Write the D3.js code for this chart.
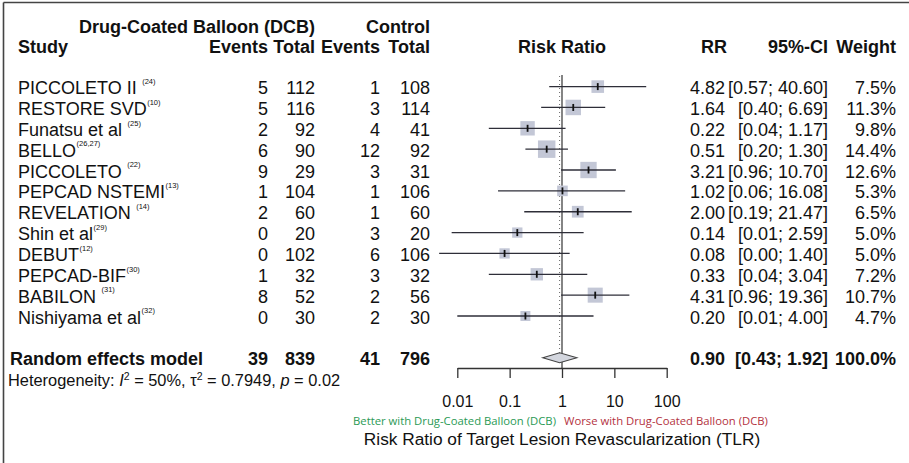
<!DOCTYPE html>
<html>
<head>
<meta charset="utf-8">
<script src="https://cdn.jsdelivr.net/npm/d3@7"></script>
<style>
  html, body { margin: 0; padding: 0; background: #fff; }
  svg text { white-space: pre; }
</style>
</head>
<body>
<svg id="chart" width="909" height="463"></svg>
<script>
// ---------- data ----------
const studies = ["PICCOLETO II ", "RESTORE SVD", "Funatsu et al ", "BELLO", "PICCOLETO ", "PEPCAD NSTEMI",
                 "REVELATION ", "Shin et al", "DEBUT", "PEPCAD-BIF", "BABILON ", "Nishiyama et al"];
const refs = ["(24)", "(10)", "(25)", "(26,27)", "(22)", "(13)", "(14)", "(29)", "(12)", "(30)", "(31)", "(32)"];
const dcbEvents = [5, 5, 2, 6, 9, 1, 2, 0, 0, 1, 8, 0];
const dcbTotal = [112, 116, 92, 90, 29, 104, 60, 20, 102, 32, 52, 30];
const ctrlEvents = [1, 3, 4, 12, 3, 1, 1, 3, 6, 3, 2, 2];
const ctrlTotal = [108, 114, 41, 92, 31, 106, 60, 20, 106, 32, 56, 30];
const rr = [4.82, 1.64, 0.22, 0.51, 3.21, 1.02, 2.00, 0.14, 0.08, 0.33, 4.31, 0.20];
const ciLow = [0.57, 0.40, 0.04, 0.20, 0.96, 0.06, 0.19, 0.0078, 0.0045, 0.04, 0.96, 0.01];
const ciHigh = [40.60, 6.69, 1.17, 1.30, 10.70, 16.08, 21.47, 2.59, 1.40, 3.04, 19.36, 4.00];
const weight = [7.5, 11.3, 9.8, 14.4, 12.6, 5.3, 6.5, 5.0, 5.0, 7.2, 10.7, 4.7];
const pooledLabel = ["Random effects model"];
const pooledCounts = [39, 839, 41, 796];
const pooledRR = [0.90];
const pooledCI = [0.43, 1.92];
const pooledWeight = [100.0];
const tickValues = [0.01, 0.1, 1, 10, 100];
const tickLabels = ["0.01", "0.1", "1", "10", "100"];

// ---------- layout ----------
const svg = d3.select("#chart");
const FONT = "'Liberation Sans', Arial, sans-serif";
const fmt2 = d3.format(".2f"), fmt1 = d3.format(".1f");

const x = d3.scaleLog().domain([0.01, 100]).range([457.3, 666.7]);
const rowY = d3.scaleLinear().domain([0, 11]).range([86.6, 316]);
const sumY = 357.7;
const axisY = 368;

// frame
svg.append("line").attr("x1", 3.5).attr("x2", 3.5).attr("y1", 2.5).attr("y2", 463)
  .attr("stroke", "#444").attr("stroke-width", 1.6);
svg.append("line").attr("x1", 3.5).attr("x2", 909).attr("y1", 2.5).attr("y2", 2.5)
  .attr("stroke", "#444").attr("stroke-width", 1.6);

const txt = (xx, yy, s, opt = {}) => svg.append("text")
  .attr("x", xx).attr("y", yy).text(s)
  .attr("font-family", FONT).attr("font-size", opt.size || 18)
  .attr("font-weight", opt.bold ? "bold" : "normal")
  .attr("text-anchor", opt.anchor || "start")
  .attr("fill", opt.fill || "#111");

// headers
txt(315, 33, "Drug-Coated Balloon (DCB)", {bold: true, anchor: "end"});
txt(430, 33, "Control", {bold: true, anchor: "end"});
txt(18, 53, "Study", {bold: true});
txt(268, 53, "Events", {bold: true, anchor: "end"});
txt(315, 53, "Total", {bold: true, anchor: "end"});
txt(380, 53, "Events", {bold: true, anchor: "end"});
txt(430, 53, "Total", {bold: true, anchor: "end"});
txt(562, 53, "Risk Ratio", {bold: true, anchor: "middle"});
txt(727, 53, "RR", {bold: true, anchor: "end"});
txt(828, 53, "95%-CI", {bold: true, anchor: "end"});
txt(896, 53, "Weight", {bold: true, anchor: "end"});

// study rows
studies.forEach((s, i) => {
  const yb = rowY(i) + 7.5;
  const t = txt(18, yb, s);
  const w = t.node().getComputedTextLength();
  txt(18 + w + 0.5, yb - 10.2, refs[i], {size: 7.5});
  txt(268, yb, String(dcbEvents[i]), {anchor: "end"});
  txt(315, yb, String(dcbTotal[i]), {anchor: "end"});
  txt(380, yb, String(ctrlEvents[i]), {anchor: "end"});
  txt(430, yb, String(ctrlTotal[i]), {anchor: "end"});
  txt(725, yb, fmt2(rr[i]), {anchor: "end"});
  txt(828, yb, "[" + fmt2(ciLow[i]) + "; " + fmt2(ciHigh[i]) + "]", {anchor: "end"});
  txt(896, yb, fmt1(weight[i]) + "%", {anchor: "end"});
});

// pooled row
const pb = 365;
txt(10, pb, pooledLabel[0], {bold: true});
txt(268, pb, String(pooledCounts[0]), {bold: true, anchor: "end"});
txt(315, pb, String(pooledCounts[1]), {bold: true, anchor: "end"});
txt(380, pb, String(pooledCounts[2]), {bold: true, anchor: "end"});
txt(430, pb, String(pooledCounts[3]), {bold: true, anchor: "end"});
txt(725, pb, fmt2(pooledRR[0]), {bold: true, anchor: "end"});
txt(828, pb, "[" + fmt2(pooledCI[0]) + "; " + fmt2(pooledCI[1]) + "]", {bold: true, anchor: "end"});
txt(896, pb, fmt1(pooledWeight[0]) + "%", {bold: true, anchor: "end"});

// heterogeneity
const het = txt(8, 385.5, "Heterogeneity: ", {size: 16.4});
het.append("tspan").attr("font-style", "italic").text("I");
het.append("tspan").attr("font-size", 10.5).attr("dy", -6).text("2");
het.append("tspan").attr("dy", 6).text(" = 50%, τ");
het.append("tspan").attr("font-size", 10.5).attr("dy", -6).text("2");
het.append("tspan").attr("dy", 6).text(" = 0.7949, ");
het.append("tspan").attr("font-style", "italic").text("p");
het.append("tspan").text(" = 0.02");

// reference lines
svg.append("line").attr("x1", x(pooledRR[0])).attr("x2", x(pooledRR[0]))
  .attr("y1", 76).attr("y2", sumY - 5)
  .attr("stroke", "#666").attr("stroke-width", 1).attr("stroke-dasharray", "1,3");
svg.append("line").attr("x1", x(1)).attr("x2", x(1))
  .attr("y1", 75).attr("y2", axisY)
  .attr("stroke", "#333").attr("stroke-width", 1.2);

// CI lines, squares, point ticks
const g = svg.append("g");
rr.forEach((v, i) => {
  const yy = rowY(i);
  const side = 4.6 * Math.sqrt(weight[i]);
  g.append("rect").attr("x", x(v) - side / 2).attr("y", yy - side / 2)
    .attr("width", side).attr("height", side).attr("fill", "#c3c7d6");
  g.append("line").attr("x1", x(ciLow[i])).attr("x2", x(ciHigh[i]))
    .attr("y1", yy).attr("y2", yy).attr("stroke", "#2e2e38").attr("stroke-width", 1.3);
  g.append("line").attr("x1", x(v)).attr("x2", x(v))
    .attr("y1", yy - 3.5).attr("y2", yy + 3.5).attr("stroke", "#111").attr("stroke-width", 1.8);
});

// diamond
const dx0 = x(pooledCI[0]), dx1 = x(pooledCI[1]), dm = x(pooledRR[0]);
svg.append("path")
  .attr("d", `M${dx0},${sumY} L${dm},${sumY - 5} L${dx1},${sumY} L${dm},${sumY + 5} Z`)
  .attr("fill", "#d3d6de").attr("stroke", "#444").attr("stroke-width", 1.1);

// axis
const axis = d3.axisBottom(x).tickValues(tickValues)
  .tickFormat((d, i) => tickLabels[i]).tickSize(10).tickSizeOuter(0).tickPadding(17.5);
const ax = svg.append("g").attr("transform", `translate(0,${axisY})`).call(axis);
ax.select(".domain").attr("stroke", "#333").attr("stroke-width", 1.3);
ax.selectAll(".tick line").attr("stroke", "#333").attr("stroke-width", 1.3);
ax.selectAll(".tick text").attr("font-family", FONT).attr("font-size", 16).attr("fill", "#111");

// direction labels
svg.append("text").attr("x", 556).attr("y", 425).attr("text-anchor", "end")
  .attr("font-family", "'Open Sans', sans-serif").attr("font-size", 11.3).attr("fill", "#2a9a55")
  .text("Better with Drug-Coated Balloon (DCB)");
svg.append("text").attr("x", 564).attr("y", 425).attr("text-anchor", "start")
  .attr("font-family", "'Open Sans', sans-serif").attr("font-size", 11.3).attr("fill", "#b3323e")
  .text("Worse with Drug-Coated Balloon (DCB)");

// axis title
txt(562, 445, "Risk Ratio of Target Lesion Revascularization (TLR)", {size: 17.3, anchor: "middle"});
</script>
</body>
</html>
